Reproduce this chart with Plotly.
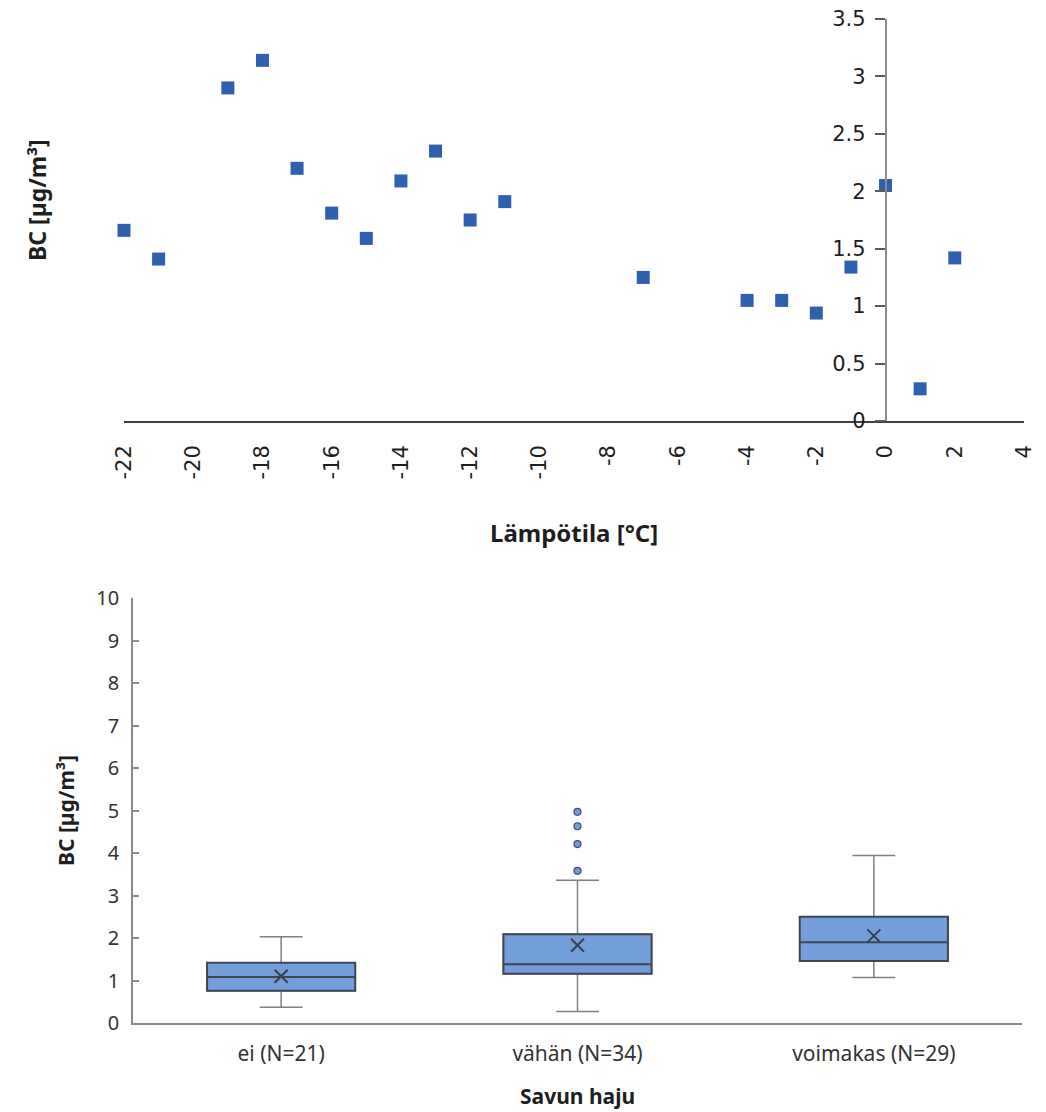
import plotly.graph_objects as go

# ---------------- data ----------------
# Scatter: temperature vs BC
temperature = [-22, -21, -19, -18, -17, -16, -15, -14, -13, -12, -11, -7, -4, -3, -2, -1, 0, 1, 2]
bc_values = [1.66, 1.41, 2.90, 3.14, 2.20, 1.81, 1.59, 2.09, 2.35, 1.75, 1.91, 1.25, 1.05, 1.05, 0.94, 1.34, 2.05, 0.28, 1.42]
x_tickvals = [-22, -20, -18, -16, -14, -12, -10, -8, -6, -4, -2, 0, 2, 4]
x_ticktext = ["-22", "-20", "-18", "-16", "-14", "-12", "-10", "-8", "-6", "-4", "-2", "0", "2", "4"]
y_tickvals_top = [0, 0.5, 1, 1.5, 2, 2.5, 3, 3.5]
y_ticktext_top = ["0", "0.5", "1", "1.5", "2", "2.5", "3", "3.5"]

# Box plot: smoke smell vs BC
categories = ["ei (N=21)", "vähän (N=34)", "voimakas (N=29)"]
q1 = [0.76, 1.16, 1.46]
median = [1.08, 1.38, 1.90]
q3 = [1.42, 2.09, 2.50]
lowerfence = [0.37, 0.27, 1.07]
upperfence = [2.03, 3.36, 3.94]
means = [1.10, 1.83, 2.05]
outlier_category = ["vähän (N=34)", "vähän (N=34)", "vähän (N=34)", "vähän (N=34)"]
outlier_values = [3.58, 4.21, 4.63, 4.97]
y_tickvals_bottom = [0, 1, 2, 3, 4, 5, 6, 7, 8, 9, 10]

# ---------------- layout helpers ----------------
W, H = 1046, 1112   # body margin removed via post_script


def px(x):
    return x / W


def py(y):
    return 1 - y / H


BLUE_SQ = "#2F5FAF"
BOX_FILL = "#739ED9"

fig = go.Figure()

# top scatter
fig.add_trace(go.Scatter(
    x=temperature, y=bc_values, mode="markers", cliponaxis=False,
    marker=dict(symbol="square", size=13, color=BLUE_SQ),
    xaxis="x", yaxis="y", showlegend=False,
))

# bottom box plot: gray whiskers layer
fig.add_trace(go.Box(
    x=categories, q1=q1, median=median, q3=q3,
    lowerfence=lowerfence, upperfence=upperfence,
    width=0.5, whiskerwidth=0.29,
    fillcolor=BOX_FILL, line=dict(color="#808080", width=1.5),
    boxpoints=False, xaxis="x2", yaxis="y2", showlegend=False,
))
# dark outline box on top (no whiskers)
fig.add_trace(go.Box(
    x=categories, q1=q1, median=median, q3=q3,
    lowerfence=q1, upperfence=q3,
    width=0.5, whiskerwidth=0,
    fillcolor=BOX_FILL, line=dict(color="#3F4650", width=2),
    boxpoints=False, xaxis="x2", yaxis="y2", showlegend=False,
))
# outliers
fig.add_trace(go.Scatter(
    x=outlier_category, y=outlier_values, mode="markers", cliponaxis=False,
    marker=dict(symbol="circle", size=7, color="#6F9BD6",
                line=dict(color="#3F4E66", width=1.2)),
    xaxis="x2", yaxis="y2", showlegend=False,
))
# means
fig.add_trace(go.Scatter(
    x=categories, y=means, mode="markers", cliponaxis=False,
    marker=dict(symbol="x-thin", size=13, color="#3A3F48",
                line=dict(color="#3A3F48", width=2)),
    xaxis="x2", yaxis="y2", showlegend=False,
))

top_x0, top_x1 = px(124), px(1024)
yaxis_pos = top_x0 + (top_x1 - top_x0) * 22 / 26


def title_ann(text, x, y, size, angle=0):
    return dict(text=text, x=px(x), y=py(y), xref="paper", yref="paper",
                xanchor="center", yanchor="middle", textangle=angle,
                showarrow=False, font=dict(size=size, color="#1E1E1E"))


fig.update_layout(
    width=W, height=H, autosize=False,
    margin=dict(l=0, r=0, t=0, b=0, pad=0, autoexpand=False),
    paper_bgcolor="white", plot_bgcolor="white",
    font=dict(family="Noto Sans", color="#262626"),
    boxmode="overlay",
    xaxis=dict(
        domain=[top_x0, top_x1], range=[-22, 4], anchor="y", automargin=False,
        tickvals=x_tickvals, ticktext=x_ticktext, tickangle=-90,
        ticks="", ticklabelstandoff=14, ticklabeloverflow="allow",
        tickfont=dict(family="DejaVu Sans", size=21, color="#1E1E1E"),
        showline=True, linecolor="#404040", linewidth=1.5,
        showgrid=False, zeroline=False,
    ),
    yaxis=dict(
        domain=[py(421), py(19)], range=[0, 3.5], automargin=False,
        anchor="free", position=yaxis_pos,
        tickvals=y_tickvals_top, ticktext=y_ticktext_top,
        ticks="outside", ticklen=10, tickwidth=1.5, tickcolor="#595959",
        ticklabelstandoff=5, ticklabeloverflow="allow",
        tickfont=dict(family="DejaVu Sans", size=21, color="#1E1E1E"),
        showline=True, linecolor="#8C8C8C", linewidth=1.5,
        showgrid=False, zeroline=False,
    ),
    xaxis2=dict(
        domain=[px(133), px(1022)], range=[-0.5, 2.5], anchor="y2", automargin=False,
        type="category", categoryorder="array", categoryarray=categories,
        ticks="", ticklabelstandoff=11, ticklabeloverflow="allow",
        tickfont=dict(family="Noto Sans", size=21, color="#333333"),
        showline=True, linecolor="#8A8A8A", linewidth=1.5,
        showgrid=False, zeroline=False,
    ),
    yaxis2=dict(
        domain=[py(1023), py(598)], range=[0, 10], anchor="x2", automargin=False,
        tickvals=y_tickvals_bottom,
        ticks="inside", ticklen=6, tickwidth=1.5, tickcolor="#8A8A8A",
        ticklabelstandoff=8, ticklabeloverflow="allow",
        tickfont=dict(family="Noto Sans", size=20, color="#333333"),
        showline=True, linecolor="#8A8A8A", linewidth=1.5,
        showgrid=False, zeroline=False,
    ),
    annotations=[
        title_ann("<b>BC [µg/m³]</b>", 37, 200, 23, -90),
        title_ann("<b>Lämpötila [°C]</b>", 574, 532, 24),
        title_ann("<b>BC [µg/m³]</b>", 66, 811, 21, -90),
        title_ann("<b>Savun haju</b>", 577, 1096, 21),
    ],
)

fig.write_html(
    "out.html",
    config={"displayModeBar": False},
    post_script="document.body.style.margin='0px';document.body.style.overflow='hidden';",
)
